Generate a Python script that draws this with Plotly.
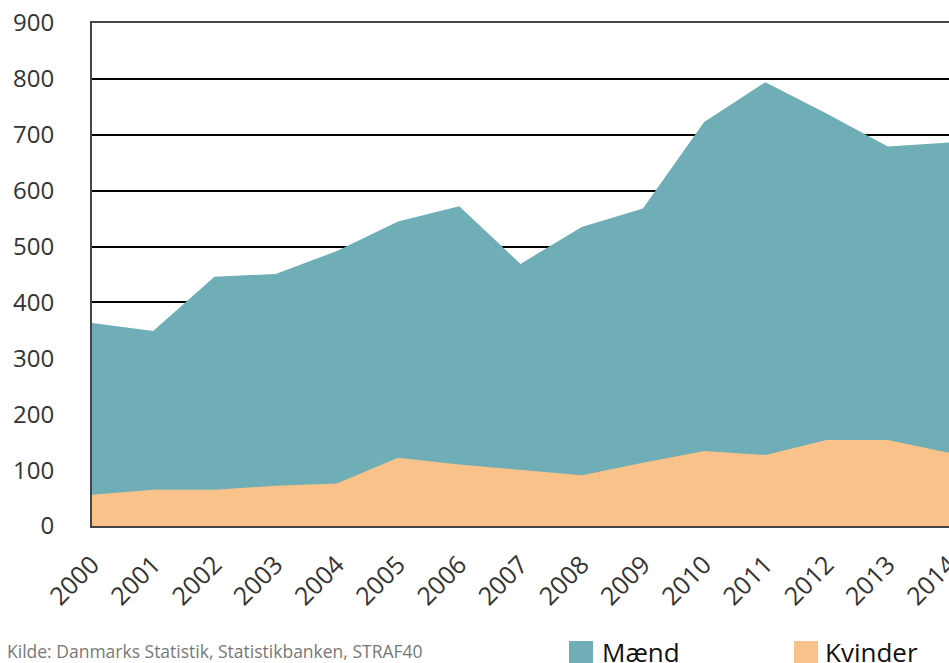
import plotly.graph_objects as go

years = list(range(2000, 2015))
kvinder = [56, 65, 65, 72, 76, 122, 110, 100, 91, 113, 134, 127, 154, 154, 131]
maend = [307, 284, 381, 379, 416, 423, 462, 369, 444, 455, 589, 667, 584, 525, 555]
y_ticks = [0, 100, 200, 300, 400, 500, 600, 700, 800, 900]
source_text = "Kilde: Danmarks Statistik, Statistikbanken, STRAF40"

TEAL = "#6FAEB6"
ORANGE = "#F8C28A"
FONT = "Open Sans"

W, H = 949, 663
L, R, T, B = 92, 0, 23, 137
pw, ph = W - L - R, H - T - B

def px(x):
    return (x - L) / pw

def py(y):
    return (H - B - y) / ph

total = [k + m for k, m in zip(kvinder, maend)]

fig = go.Figure()
fig.add_trace(go.Scatter(x=years, y=total, name="Mænd", mode="lines",
                         fill="tozeroy", line=dict(width=0, color=TEAL),
                         fillcolor=TEAL, showlegend=False,
                         customdata=maend, hovertemplate="%{customdata}<extra>Mænd</extra>"))
fig.add_trace(go.Scatter(x=years, y=kvinder, name="Kvinder", mode="lines",
                         fill="tozeroy", line=dict(width=0, color=ORANGE),
                         fillcolor=ORANGE, showlegend=False))

fig.update_layout(
    width=W, height=H, autosize=False,
    margin=dict(l=L, r=R, t=T, b=B, pad=0, autoexpand=False),
    paper_bgcolor="white", plot_bgcolor="white",
    font=dict(family=FONT, color="#333333"),
    xaxis=dict(range=[2000, 2014], tickvals=years, ticktext=[str(y) for y in years],
               tickangle=-45, tickfont=dict(size=25, color="#333333"),
               showgrid=False, zeroline=False, showline=True, mirror=True,
               linecolor="#444444", linewidth=2, ticks="", ticklabelstandoff=12,
               ticklabeloverflow="allow", automargin=False),
    yaxis=dict(range=[0, 900], tickvals=y_ticks, tickfont=dict(size=24, color="#333333"),
               showgrid=True, gridcolor="#000000", gridwidth=1.5, zeroline=False,
               showline=True, linecolor="#444444", linewidth=2, ticks="",
               ticklabelstandoff=31, automargin=False),
)

fig.add_shape(type="rect", xref="paper", yref="paper", x0=px(569), x1=px(593),
              y0=py(641), y1=py(668), fillcolor=TEAL, line=dict(width=0))
fig.add_shape(type="rect", xref="paper", yref="paper", x0=px(794), x1=px(818),
              y0=py(641), y1=py(668), fillcolor=ORANGE, line=dict(width=0))
fig.add_annotation(xref="paper", yref="paper", x=px(600), y=py(652), text="Mænd",
                   xanchor="left", yanchor="middle", showarrow=False,
                   font=dict(size=26, color="#111111", family=FONT))
fig.add_annotation(xref="paper", yref="paper", x=px(823), y=py(652), text="Kvinder",
                   xanchor="left", yanchor="middle", showarrow=False,
                   font=dict(size=26, color="#111111", family=FONT))
fig.add_annotation(xref="paper", yref="paper", x=px(5), y=py(651), text=source_text,
                   xanchor="left", yanchor="middle", showarrow=False,
                   font=dict(size=17.5, color="#777777", family=FONT))

fig.write_html("out.html", config={"displayModeBar": False},
               post_script="document.body.style.margin='0';document.body.style.overflow='hidden';")
